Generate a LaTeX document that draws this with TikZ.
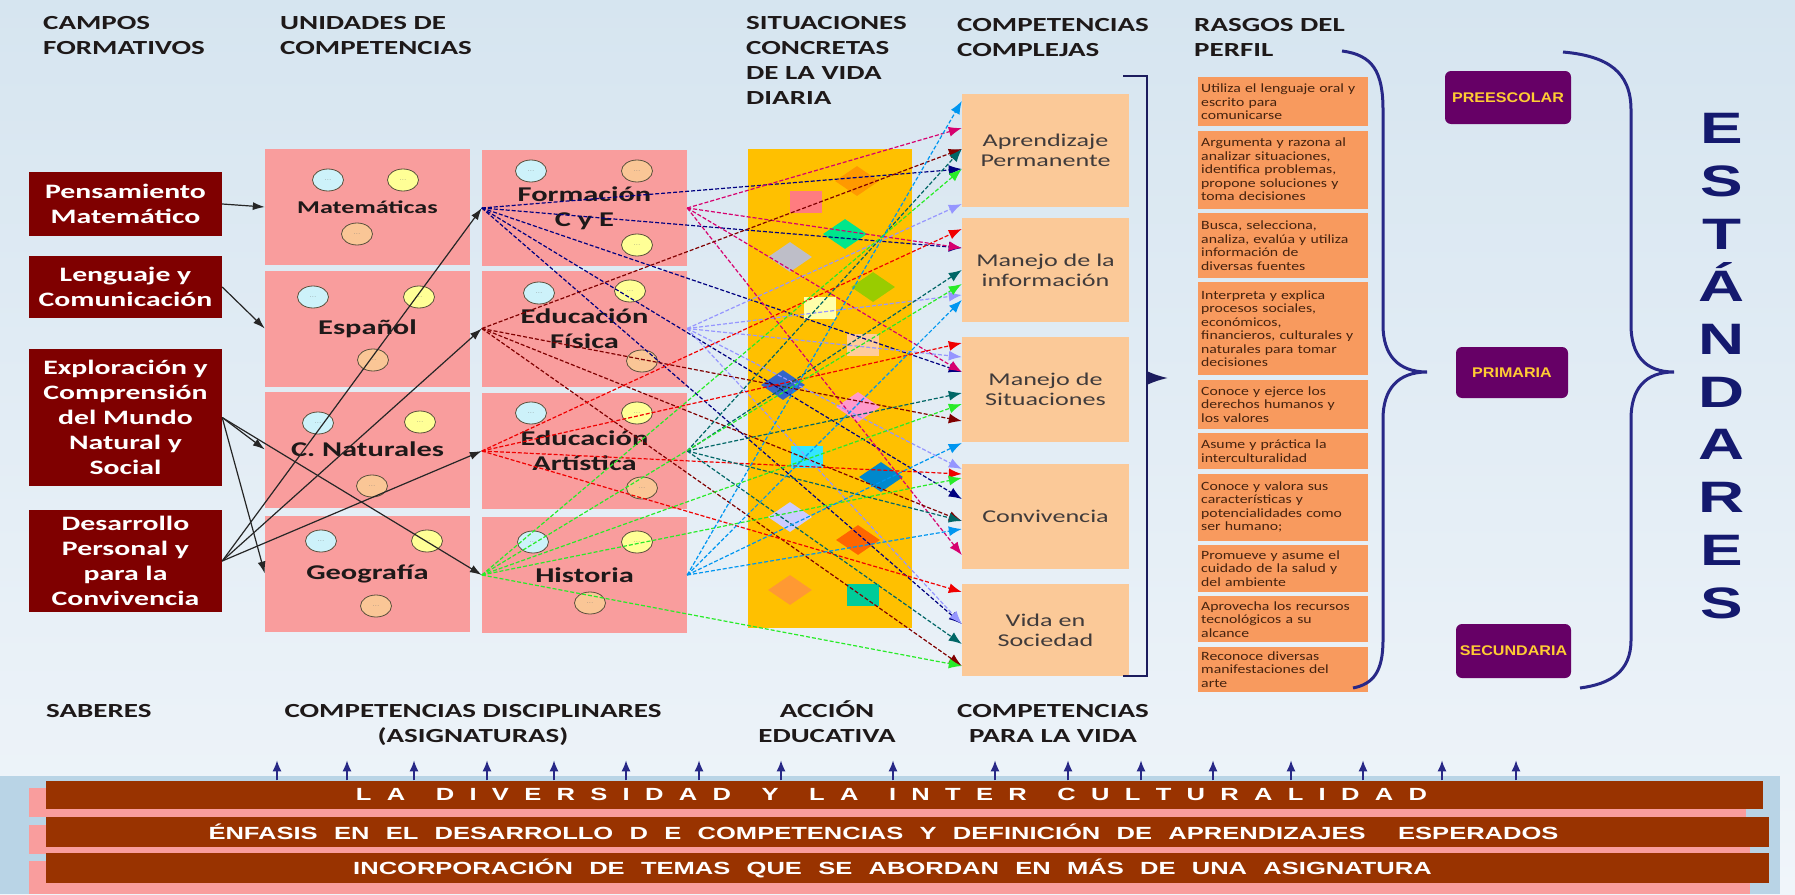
\documentclass[tikz,border=0pt]{standalone}
\usepackage{fontspec}
\usetikzlibrary{arrows.meta,positioning,shapes.geometric}

\newfontfamily\calfont[FakeStretch=1.45]{Carlito}
\newfontfamily\traitfont[FakeStretch=1.25]{Carlito}
\newfontfamily\arifont[FakeStretch=1.45]{Liberation Sans}
\newfontfamily\nivfont[FakeStretch=1.15]{Liberation Sans}
\newfontfamily\bandfont[FakeStretch=1.45,WordSpace=2.3]{Liberation Sans}

\definecolor{ink}{RGB}{30,25,25}
\definecolor{bgtop}{RGB}{214,229,240}
\definecolor{bgbot}{RGB}{240,245,250}
\definecolor{maroon}{RGB}{127,0,0}
\definecolor{rosa}{RGB}{249,157,157}
\definecolor{amarillo}{RGB}{255,192,0}
\definecolor{melon}{RGB}{251,201,152}
\definecolor{naranja}{RGB}{248,154,94}
\definecolor{brownink}{RGB}{70,35,15}
\definecolor{purpura}{RGB}{102,0,102}
\definecolor{oro}{RGB}{255,204,51}
\definecolor{rust}{RGB}{153,51,0}
\definecolor{navy}{RGB}{40,40,135}
\definecolor{estandar}{RGB}{20,25,110}
\definecolor{cielo}{RGB}{185,212,230}
\definecolor{cyanb}{RGB}{205,242,250}
\definecolor{yellowb}{RGB}{255,255,150}
\definecolor{peachb}{RGB}{250,198,150}
\definecolor{bubbleline}{RGB}{90,80,60}
% line colours
\definecolor{azul}{RGB}{0,0,128}
\definecolor{magenta}{RGB}{214,0,110}
\definecolor{granate}{RGB}{128,0,0}
\definecolor{lila}{RGB}{150,150,255}
\definecolor{rojo}{RGB}{240,0,0}
\definecolor{petroleo}{RGB}{0,102,102}
\definecolor{verde}{RGB}{40,235,40}
\definecolor{celeste}{RGB}{0,150,240}
% tile colours
\definecolor{tOrange}{RGB}{255,153,0}
\definecolor{tSalmon}{RGB}{255,124,128}
\definecolor{tMint}{RGB}{0,230,140}
\definecolor{tSilver}{RGB}{190,190,200}
\definecolor{tLime}{RGB}{153,204,0}
\definecolor{tCream}{RGB}{255,255,170}
\definecolor{tPeach}{RGB}{255,204,153}
\definecolor{tBlue}{RGB}{51,102,204}
\definecolor{tPink}{RGB}{255,153,204}
\definecolor{tAqua}{RGB}{51,230,255}
\definecolor{tSteel}{RGB}{0,136,204}
\definecolor{tLav}{RGB}{204,204,255}
\definecolor{tRed}{RGB}{255,102,0}
\definecolor{tApricot}{RGB}{255,153,51}
\definecolor{tTeal}{RGB}{0,204,153}

\begin{document}
\begin{tikzpicture}[
    x=1pt, y=-1pt,
    head/.style={anchor=north west, inner sep=0, align=left, text=ink, font=\calfont\bfseries\fontsize{20}{25}\selectfont},
    foot/.style={head, anchor=north, align=center},
    campo/.style={fill=maroon, text=white, minimum width=193, inner sep=0, align=center, font=\calfont\bfseries\fontsize{20.5}{25}\selectfont},
    unidad/.style={fill=rosa, minimum width=205, minimum height=116, inner sep=0, align=center, text=ink, font=\calfont\bfseries\fontsize{21}{25}\selectfont},
    bubble/.style={ellipse, draw=bubbleline, line width=0.8pt, minimum width=31, minimum height=22, inner sep=0, text=black!55, font=\fontsize{7}{7}\selectfont},
    sq/.style={minimum width=32, minimum height=22, inner sep=0},
    dia/.style={diamond, minimum width=44, minimum height=30, inner sep=0},
    compleja/.style={fill=melon, minimum width=167, inner sep=0, align=center, text=ink!85, font=\calfont\fontsize{18}{20}\selectfont},
    rasgo/.style={fill=naranja, text width=164, inner xsep=3, inner ysep=0, align=left, text=brownink, font=\traitfont\fontsize{12.6}{13.5}\selectfont},
    nivel/.style={fill=purpura, rounded corners=6, text=oro, font=\nivfont\bfseries\fontsize{14}{16}\selectfont},
    band/.style={fill=rust, inner sep=0},
    lema/.style={inner sep=0, text=white, font=\bandfont\bfseries\fontsize{17.6}{20}\selectfont},
    link/.style={-{Latex[length=12pt,width=8pt]}, line width=1.2pt, draw=black!85},
    flow/.style={-{Latex[length=13pt,width=10pt]}, line width=1.2pt, dash pattern=on 4pt off 2pt, draw=#1},
    rise/.style={-{Latex[length=11pt,width=9pt]}, line width=1.6pt, draw=navy},
    brace/.style={draw=navy, line width=3pt},
    bracket/.style={draw=navy!70!black, line width=1.8pt}
]
\useasboundingbox (0,0) rectangle (1795,894);
\shade[top color=bgtop, bottom color=bgbot] (0,0) rectangle (1795,894);

% headings
\node[head] (hcampos) at (43,16) {CAMPOS\\FORMATIVOS};
\node[head] (hunid) at (280,16) {UNIDADES DE\\COMPETENCIAS};
\node[head] (hsit) at (746,16) {SITUACIONES\\CONCRETAS\\DE LA VIDA\\DIARIA};
\node[head] (hcomp) at (957,18) {COMPETENCIAS\\COMPLEJAS};
\node[head] (hrasgos) at (1194,18) {RASGOS DEL\\PERFIL};

% campos formativos
\node[campo, minimum height=64] (pens) at (125.5,204) {Pensamiento\\Matemático};
\node[campo, minimum height=62] (leng) at (125.5,287) {Lenguaje y\\Comunicación};
\node[campo, minimum height=137] (expl) at (125.5,417.5) {Exploración y\\Comprensión\\del Mundo\\Natural y\\Social};
\node[campo, minimum height=102] (desa) at (125.5,561) {Desarrollo\\Personal y\\para la\\Convivencia};

% asignaturas
\node[unidad, font=\calfont\bfseries\fontsize{18}{22}\selectfont] (mat) at (367.5,207) {Matemáticas};
\node[unidad] (esp) at (367.5,328.5) {Español};
\node[unidad] (nat) at (367.5,449.5) {C. Naturales};
\node[unidad] (geo) at (367.5,573.5) {Geografía};
\node[unidad] (form) at (584.5,208) {Formación\\C y E};
\node[unidad] (fis) at (584.5,328.5) {Educación\\Física};
\node[unidad] (art) at (584.5,451) {Educación\\Artística};
\node[unidad] (hist) at (584.5,575) {Historia};

\foreach \x/\y/\c [count=\i] in {328/180/cyanb, 403/180/yellowb, 357/234/peachb,
    313/297/cyanb, 419/297/yellowb, 373/360/peachb,
    318/423/cyanb, 420/422/yellowb, 372/486/peachb,
    321/541/cyanb, 427/541/yellowb, 376/606/peachb,
    531/171/cyanb, 637/171/peachb, 637/245/yellowb,
    539/293/cyanb, 630/291/yellowb, 642/361/peachb,
    531/413/cyanb, 637/413/yellowb, 642/488/peachb,
    533/542/cyanb, 637/542/yellowb, 590/603/peachb}
  \node[bubble, fill=\c] (b\i) at (\x,\y) {...};

% situaciones concretas
\node[fill=amarillo, minimum width=164, minimum height=479, inner sep=0] (col) at (830,388.5) {};
\foreach \x/\y/\c [count=\i] in {806/202/tSalmon, 820/308/tCream, 863/345/tPeach, 807/457/tAqua, 863/595/tTeal}
  \node[sq, fill=\c] (s\i) at (\x,\y) {};
\foreach \x/\y/\c [count=\i] in {857/181/tOrange, 845/234/tMint, 790/257/tSilver, 873/287/tLime,
    783/385/tBlue, 858/407/tPink, 881/477/tSteel, 790/517/tLav, 858/540/tRed, 790/590/tApricot}
  \node[dia, fill=\c] (d\i) at (\x,\y) {};

% competencias complejas
\node[compleja, minimum height=113] (ap) at (1045.5,150.5) {Aprendizaje\\Permanente};
\node[compleja, minimum height=104] (inf) at (1045.5,270) {Manejo de la\\información};
\node[compleja, minimum height=105] (sit) at (1045.5,389.5) {Manejo de\\Situaciones};
\node[compleja, minimum height=105] (conv) at (1045.5,516.5) {Convivencia};
\node[compleja, minimum height=92] (vida) at (1045.5,630) {Vida en\\Sociedad};
\draw[bracket] (1123,76) -- (1147,76) -- (1147,676) -- (1123,676);
\coordinate (brk) at (1147,378);
\draw[bracket, -{Latex[length=20pt,width=13pt]}] (brk) -- ++(21,0);

% rasgos del perfil
\node[rasgo, anchor=north west, minimum height=49] (r1) at (1198,77) {Utiliza el lenguaje oral y\\escrito para\\comunicarse};
\node[rasgo, minimum height=78, below=4pt of r1] (r2) {Argumenta y razona al\\analizar situaciones,\\identifica problemas,\\propone soluciones y\\toma decisiones};
\node[rasgo, minimum height=65, below=4pt of r2] (r3) {Busca, selecciona,\\analiza, evalúa y utiliza\\información de\\diversas fuentes};
\node[rasgo, minimum height=93, below=4pt of r3] (r4) {Interpreta y explica\\procesos sociales,\\económicos,\\financieros, culturales y\\naturales para tomar\\decisiones};
\node[rasgo, minimum height=49, below=4pt of r4] (r5) {Conoce y ejerce los\\derechos humanos y\\los valores};
\node[rasgo, minimum height=36, below=4pt of r5] (r6) {Asume y práctica la\\interculturalidad};
\node[rasgo, minimum height=67, below=4pt of r6] (r7) {Conoce y valora sus\\características y\\potencialidades como\\ser humano;};
\node[rasgo, minimum height=47, below=4pt of r7] (r8) {Promueve y asume el\\cuidado de la salud y\\del ambiente};
\node[rasgo, minimum height=46, below=4pt of r8] (r9) {Aprovecha los recursos\\tecnológicos a su\\alcance};
\node[rasgo, minimum height=45, below=4pt of r9] (r10) {Reconoce diversas\\manifestaciones del\\arte};

% niveles y estandares
\draw[brace] (1342,51) .. controls (1373,55) and (1383,72) .. (1383,110) -- (1383,325)
    .. controls (1383,355) and (1398,372) .. (1427,372) .. controls (1398,372) and (1383,389) .. (1383,419)
    -- (1383,640) .. controls (1383,672) and (1373,684) .. (1353,688);
\node[nivel, minimum width=126, minimum height=53] (pre) at (1508,97.5) {PREESCOLAR};
\node[nivel, minimum width=112, minimum height=51] (pri) at (1512,372.5) {PRIMARIA};
\node[nivel, minimum width=115, minimum height=54] (sec) at (1513.5,651) {SECUNDARIA};
\draw[brace] (1563,52) .. controls (1608,56) and (1631,72) .. (1631,110) -- (1631,325)
    .. controls (1631,355) and (1645,372) .. (1674,372) .. controls (1645,372) and (1631,389) .. (1631,419)
    -- (1631,640) .. controls (1631,672) and (1610,684) .. (1580,688);
\node[inner sep=0, align=center, text=estandar, font=\arifont\bfseries\fontsize{44}{52.7}\selectfont] (est) at (1722,366) {E\\S\\T\\Á\\N\\D\\A\\R\\E\\S};

% pie
\node[head] (saberes) at (46,704) {SABERES};
\node[foot] (discip) at (473,704) {COMPETENCIAS DISCIPLINARES\\(ASIGNATURAS)};
\node[foot] (accion) at (827,700) {ACCIÓN\\EDUCATIVA};
\node[foot] (paravida) at (1053,704) {COMPETENCIAS\\PARA LA VIDA};

\fill[cielo] (0,776) rectangle (1780,894);
\fill[rosa] (29,788) rectangle (1746,817);
\fill[rosa] (29,825) rectangle (1750,854);
\fill[rosa] (29,861) rectangle (1750,894);
\node[band, minimum width=1717, minimum height=28] (band1) at (904.5,794.5) {};
\node[band, minimum width=1723, minimum height=30] (band2) at (907.5,831.5) {};
\node[band, minimum width=1723, minimum height=30] (band3) at (907.5,868) {};
\node[lema] (lema1) at ([xshift=-13pt]band1.center)
  {\spaceskip 15.3pt\relax L A\ \ D I V E R S I D A D\ \ Y\ \ L A\ \ I N T E R\ \ C U L T U R A L I D A D};
\node[lema] (lema2) at ([xshift=-24pt]band2.center) {ÉNFASIS EN EL DESARROLLO D E COMPETENCIAS Y DEFINICIÓN DE APRENDIZAJES\ \ ESPERADOS};
\node[lema] (lema3) at ([xshift=-15pt]band3.center) {INCORPORACIÓN DE TEMAS QUE SE ABORDAN EN MÁS DE UNA ASIGNATURA};
\foreach \x in {277,347,414,487,554,626,699,781,893,995,1068,1141,1213,1291,1363,1442,1516}
  \draw[rise] (band1.north -| \x,0) -- ++(0,-20);

% campos -> asignaturas
\draw[link] (pens.east) -- (mat.west);
\draw[link] (leng.east) -- (esp.west);
\draw[link] (expl.east) -- (nat.west);
\draw[link] (expl.east) -- (geo.west);
\draw[link] (expl.east) -- (hist.west);
\draw[link] (desa.east) -- (form.west);
\draw[link] (desa.east) -- (fis.west);
\draw[link] (desa.east) -- (art.west);

% asignaturas -> competencias complejas
\foreach \s/\t/\c in {form.west/169/azul, form.west/248/azul, form.west/372/azul, form.west/499/azul, form.west/624/azul,
    form.east/128/magenta, form.east/248/magenta, form.east/372/magenta, form.east/555/magenta,
    fis.west/149/granate, fis.west/421/granate, fis.west/521/granate, fis.west/666/granate,
    fis.east/204/lila, fis.east/295/lila, fis.east/357/lila, fis.east/469/lila, fis.east/624/lila,
    art.west/229/rojo, art.west/343/rojo, art.west/474/rojo, art.west/592/rojo,
    art.east/149/petroleo, art.east/270/petroleo, art.east/393/petroleo, art.east/521/petroleo, art.east/644/petroleo,
    hist.west/169/verde, hist.west/284/verde, hist.west/404/verde, hist.west/478/verde, hist.west/666/verde,
    hist.east/101/celeste, hist.east/300/celeste, hist.east/443/celeste, hist.east/529/celeste}
  \draw[flow=\c] (\s) -- (ap.west |- 0,\t);
\end{tikzpicture}
\end{document}
